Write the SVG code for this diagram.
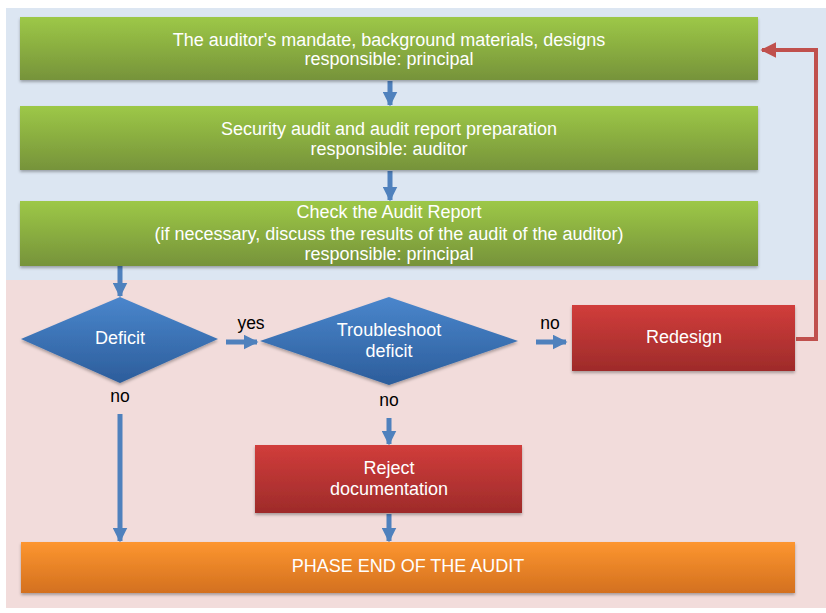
<svg xmlns="http://www.w3.org/2000/svg" width="826" height="613" viewBox="0 0 826 613">
<style>
.t{font-family:"Liberation Sans",Arial,sans-serif;font-size:18px;fill:#fff;text-anchor:middle}
.l{font-family:"Liberation Sans",Arial,sans-serif;font-size:17.5px;fill:#000;text-anchor:middle}
.b{stroke:#4f81bd;stroke-width:5;fill:none}
.r{stroke:#c0504d;stroke-width:4;fill:none}
</style>
<defs>
<linearGradient id="g" x1="0" y1="0" x2="0" y2="1"><stop offset="0" stop-color="#9dc847"/><stop offset="1" stop-color="#76933a"/></linearGradient>
<linearGradient id="bl" x1="0" y1="0" x2="0" y2="1"><stop offset="0" stop-color="#4a86cc"/><stop offset="1" stop-color="#2c5d9b"/></linearGradient>
<linearGradient id="rd" x1="0" y1="0" x2="0" y2="1"><stop offset="0" stop-color="#d13d3b"/><stop offset="1" stop-color="#9e2b2a"/></linearGradient>
<linearGradient id="or" x1="0" y1="0" x2="0" y2="1"><stop offset="0" stop-color="#fd9630"/><stop offset="1" stop-color="#d3701f"/></linearGradient>
<filter id="sh" x="-5%" y="-10%" width="110%" height="130%"><feDropShadow dx="0" dy="2" stdDeviation="1.5" flood-color="#000" flood-opacity="0.3"/></filter>
<marker id="ab" viewBox="0 0 10 10" refX="9" refY="5" markerWidth="3" markerHeight="3" orient="auto" markerUnits="strokeWidth"><path d="M0,0L10,5L0,10z" fill="#4f81bd"/></marker>
<marker id="ar" viewBox="0 0 10 10" refX="9" refY="5" markerWidth="4" markerHeight="4" orient="auto" markerUnits="strokeWidth"><path d="M0,0L10,5L0,10z" fill="#c0504d"/></marker>
</defs>
<rect x="6" y="8" width="820" height="272" fill="#dce6f2"/>
<rect x="6" y="280" width="820" height="328" fill="#f2dcdb"/>
<g id="connectors">
<line class="b" x1="390" y1="81" x2="390" y2="105" marker-end="url(#ab)"/>
<line class="b" x1="390" y1="171" x2="390" y2="200" marker-end="url(#ab)"/>
<line class="b" x1="120" y1="266" x2="120" y2="296" marker-end="url(#ab)"/>
<line class="b" x1="226" y1="342" x2="257" y2="342" marker-end="url(#ab)"/>
<line class="b" x1="536" y1="342" x2="566" y2="342" marker-end="url(#ab)"/>
<line class="b" x1="389" y1="418" x2="389" y2="444" marker-end="url(#ab)"/>
<line class="b" x1="389" y1="514" x2="389" y2="541" marker-end="url(#ab)"/>
<line class="b" x1="120" y1="414" x2="120" y2="541" marker-end="url(#ab)"/>
<polyline class="r" points="796,339 816,339 816,50 762,50" marker-end="url(#ar)"/>
<text class="l" x="251" y="329">yes</text>
<text class="l" x="550" y="329">no</text>
<text class="l" x="120" y="402">no</text>
<text class="l" x="389" y="406">no</text>
</g>
<g id="n1"><rect x="20" y="17" width="738" height="63" fill="url(#g)" filter="url(#sh)"/><text class="t" x="389" y="46">The auditor's mandate, background materials, designs</text><text class="t" x="389" y="65">responsible: principal</text></g>
<g id="n2"><rect x="20" y="106" width="738" height="64" fill="url(#g)" filter="url(#sh)"/><text class="t" x="389" y="135">Security audit and audit report preparation</text><text class="t" x="389" y="155">responsible: auditor</text></g>
<g id="n3"><rect x="20" y="201" width="738" height="65" fill="url(#g)" filter="url(#sh)"/><text class="t" x="389" y="218">Check the Audit Report</text><text class="t" x="389" y="240">(if necessary, discuss the results of the audit of the auditor)</text><text class="t" x="389" y="260">responsible: principal</text></g>
<g id="deficit"><polygon points="120,297 218,339 120,383 21,339" fill="url(#bl)" filter="url(#sh)"/><text class="t" x="120" y="344">Deficit</text></g>
<g id="troubleshoot"><polygon points="389,297 518,341 389,385 260,341" fill="url(#bl)" filter="url(#sh)"/><text class="t" x="389" y="336">Troubleshoot</text><text class="t" x="389" y="357">deficit</text></g>
<g id="redesign"><rect x="572" y="305" width="223" height="66" fill="url(#rd)" filter="url(#sh)"/><text class="t" x="684" y="343">Redesign</text></g>
<g id="reject"><rect x="255" y="445" width="267" height="68" fill="url(#rd)" filter="url(#sh)"/><text class="t" x="389" y="474">Reject</text><text class="t" x="389" y="495">documentation</text></g>
<g id="end"><rect x="21" y="542" width="774" height="51" fill="url(#or)" filter="url(#sh)"/><text class="t" x="408" y="572">PHASE END OF THE AUDIT</text></g>
</svg>
